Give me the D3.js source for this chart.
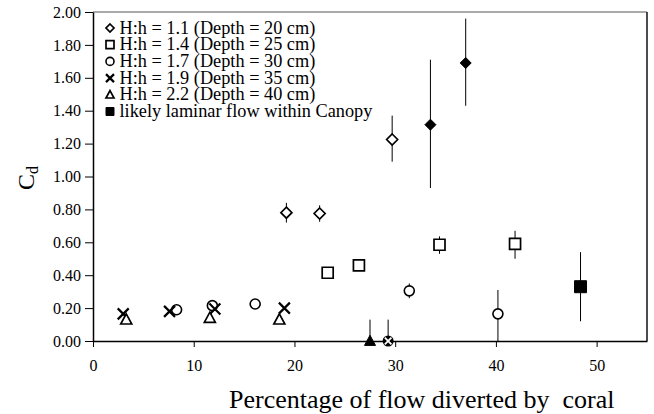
<!DOCTYPE html>
<html>
<head>
<meta charset="utf-8">
<script src="https://cdn.jsdelivr.net/npm/d3@7"></script>
<style>
  html, body { margin: 0; padding: 0; background: #fff; }
  svg, svg text { font-family: "Liberation Serif", "Times New Roman", serif; }
</style>
</head>
<body>
<svg id="chart" width="654" height="414"></svg>
<script>
// values: [x, Cd, errLow, errHigh]
const hh11 = [[19.2, 0.78, 0.72, 0.84], [22.5, 0.775, 0.725, 0.825], [29.7, 1.225, 1.09, 1.37]];
const hh11Laminar = [[33.5, 1.315, 0.93, 1.71], [37.0, 1.69, 1.43, 1.96]];
const hh14 = [[23.3, 0.415], [26.4, 0.46], [34.4, 0.585, 0.53, 0.636], [41.9, 0.59, 0.50, 0.67]];
const hh14Laminar = [[48.4, 0.33, 0.12, 0.54]];
const hh17 = [[8.3, 0.19], [11.85, 0.215], [16.1, 0.225], [31.4, 0.305, 0.26, 0.35], [40.2, 0.165, 0.0, 0.31]];
const hh19 = [[3.0, 0.165], [7.6, 0.18], [12.1, 0.195], [19.0, 0.2]];
const hh19Laminar = [[29.3, 0.0, 0.0, 0.13]];
const hh22 = [[3.3, 0.13], [11.6, 0.14], [18.5, 0.13]];
const hh22Laminar = [[27.5, 0.0, 0.0, 0.13]];

const legendLabels = [
  'H:h = 1.1 (Depth = 20 cm)',
  'H:h = 1.4 (Depth = 25 cm)',
  'H:h = 1.7 (Depth = 30 cm)',
  'H:h = 1.9 (Depth = 35 cm)',
  'H:h = 2.2 (Depth = 40 cm)',
  'likely laminar flow within Canopy'
];
const legendShapes = ['diamond', 'square', 'circle', 'cross', 'triangle', 'square'];
const xTicks = [0, 10, 20, 30, 40, 50];
const yTicks = [0, 0.2, 0.4, 0.6, 0.8, 1.0, 1.2, 1.4, 1.6, 1.8, 2.0];

const series = [
  { shape: 'diamond', filled: false, data: hh11 },
  { shape: 'diamond', filled: true, data: hh11Laminar },
  { shape: 'square', filled: false, data: hh14 },
  { shape: 'square', filled: true, data: hh14Laminar, size: 12 },
  { shape: 'circle', filled: false, data: hh17 },
  { shape: 'cross', filled: false, data: hh19 },
  { shape: 'crossCircle', filled: true, data: hh19Laminar },
  { shape: 'triangle', filled: false, data: hh22 },
  { shape: 'triangle', filled: true, data: hh22Laminar }
];

const FONT = '"Liberation Serif", "Times New Roman", serif';
const svg = d3.select('#chart').attr('font-family', FONT);
const margin = { top: 12, right: 7, bottom: 73, left: 93 };
const width = 654, height = 414;

const x = d3.scaleLinear().domain([0, 55]).range([margin.left, width - margin.right]);
const y = d3.scaleLinear().domain([0, 2]).range([height - margin.bottom, margin.top]);

// frame
svg.append('line').attr('x1', x(0)).attr('x2', x(55)).attr('y1', y(2)).attr('y2', y(2))
  .attr('stroke', '#555').attr('stroke-width', 1);
svg.append('line').attr('x1', x(55)).attr('x2', x(55)).attr('y1', y(2)).attr('y2', y(0))
  .attr('stroke', '#111').attr('stroke-width', 1.5);

const yAxis = svg.append('g')
  .attr('transform', `translate(${margin.left},0)`)
  .call(d3.axisLeft(y).tickValues(yTicks).tickFormat(d3.format('.2f')).tickSize(8).tickSizeOuter(0).tickPadding(4));
const xAxis = svg.append('g')
  .attr('transform', `translate(0,${height - margin.bottom})`)
  .call(d3.axisBottom(x).tickValues(xTicks).tickSize(6).tickSizeOuter(0).tickPadding(13));

[xAxis, yAxis].forEach(g => {
  g.attr('font-family', FONT).attr('font-size', 16);
  g.select('.domain').attr('stroke', '#000').attr('stroke-width', 1.5);
  g.selectAll('.tick line').attr('stroke', '#000').attr('stroke-width', 1);
  g.selectAll('.tick text').attr('fill', '#000');
});

// axis titles
svg.append('text')
  .attr('x', 229).attr('y', 408)
  .attr('font-size', 26).style('white-space', 'pre')
  .text('Percentage of flow diverted by  coral');

const yTitle = svg.append('text')
  .attr('transform', 'translate(34,178) rotate(-90)')
  .attr('text-anchor', 'middle')
  .attr('font-size', 24);
yTitle.append('tspan').text('C');
yTitle.append('tspan').attr('dy', 4).attr('font-size', 16).text('d');

function shapePath(shape, s) {
  const h = s / 2;
  if (shape === 'diamond') return `M0,${-h}L${h},0L0,${h}L${-h},0Z`;
  if (shape === 'square') return `M${-h},${-h}H${h}V${h}H${-h}Z`;
  if (shape === 'triangle') return `M0,${-h * 1.05}L${h},${h * 0.8}L${-h},${h * 0.8}Z`;
  if (shape === 'cross') return `M${-h},${-h}L${h},${h}M${h},${-h}L${-h},${h}`;
  return null;
}

function drawMarker(g, shape, filled, s) {
  if (shape === 'circle') {
    g.append('circle').attr('r', s / 2)
      .attr('fill', filled ? '#000' : '#fff').attr('stroke', '#000').attr('stroke-width', 1.6);
  } else if (shape === 'crossCircle') {
    g.append('circle').attr('r', s / 2).attr('fill', '#000');
    g.append('path').attr('d', shapePath('cross', s * 0.6))
      .attr('stroke', '#fff').attr('stroke-width', 1.8).attr('fill', 'none');
  } else if (shape === 'cross') {
    g.append('path').attr('d', shapePath('cross', s))
      .attr('stroke', '#000').attr('stroke-width', 2.2).attr('fill', 'none');
  } else {
    g.append('path').attr('d', shapePath(shape, s))
      .attr('fill', filled ? '#000' : '#fff').attr('stroke', '#000')
      .attr('stroke-width', filled ? 1 : 1.7);
  }
}

const plot = svg.append('g');

// error bars first so markers sit on top
series.forEach(sr => {
  plot.selectAll(null)
    .data(sr.data.filter(d => d.length > 2))
    .enter().append('line')
    .attr('x1', d => x(d[0])).attr('x2', d => x(d[0]))
    .attr('y1', d => y(d[2])).attr('y2', d => y(d[3]))
    .attr('stroke', '#000').attr('stroke-width', 1);
});

series.forEach(sr => {
  sr.data.forEach(d => {
    const g = plot.append('g').attr('transform', `translate(${x(d[0])},${y(d[1])})`);
    drawMarker(g, sr.shape, sr.filled, sr.size || (sr.shape === 'circle' ? 10 : 11));
  });
});

// legend
const legend = svg.append('g');
legendLabels.forEach((label, i) => {
  const row = legend.append('g').attr('transform', `translate(0,${28 + i * 16.7})`);
  const m = row.append('g').attr('transform', 'translate(110,0)');
  drawMarker(m, legendShapes[i], i === 5, 8);
  row.append('text').attr('x', 119.5).attr('y', 5.5)
    .attr('font-size', 18.3).text(label);
});
</script>
</body>
</html>
